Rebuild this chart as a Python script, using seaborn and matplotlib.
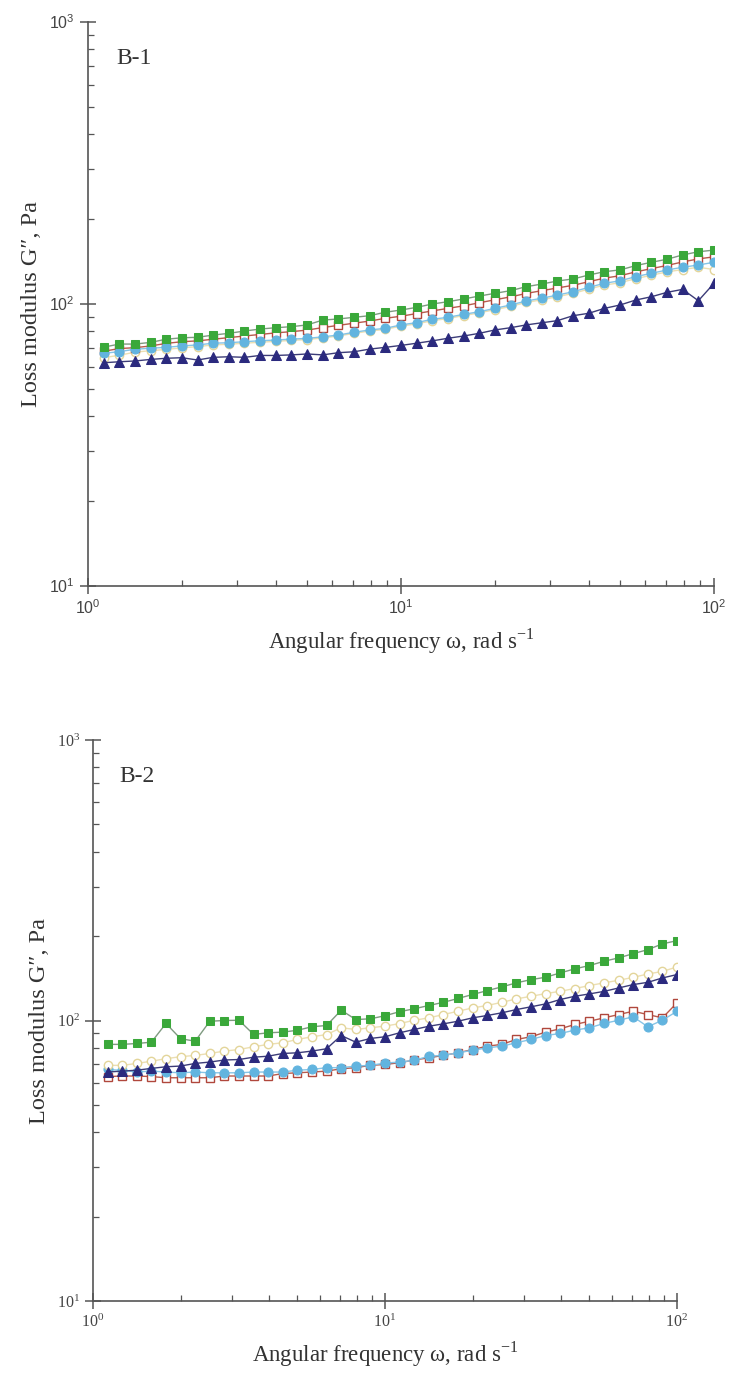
import numpy as np
import pandas as pd
import matplotlib
matplotlib.use("Agg")
import matplotlib.pyplot as plt
from matplotlib.ticker import LogLocator, NullFormatter, FuncFormatter
import seaborn as sns

# ---------------- data ----------------
freq = [1.122, 1.259, 1.413, 1.585, 1.778, 1.995, 2.239, 2.512, 2.818, 3.162,
        3.548, 3.981, 4.467, 5.012, 5.623, 6.310, 7.079, 7.943, 8.913, 10.0,
        11.22, 12.59, 14.13, 15.85, 17.78, 19.95, 22.39, 25.12, 28.18, 31.62,
        35.48, 39.81, 44.67, 50.12, 56.23, 63.10, 70.79, 79.43, 89.13, 100.0]

b1_green = [70.3, 72.1, 72.1, 73.1, 75.0, 75.9, 76.2, 77.6, 78.7, 80.2,
            81.5, 82.4, 83.1, 84.3, 87.7, 88.5, 89.7, 90.9, 93.5, 95.2,
            97.3, 100.0, 101.9, 104.2, 106.7, 109.1, 111.5, 115.2, 117.7, 120.7,
            122.7, 126.7, 130.2, 132.1, 136.8, 140.6, 144.1, 149.3, 153.2, 155.3]
b1_red = [68.0, 69.5, 70.0, 71.0, 72.5, 73.5, 74.0, 75.0, 76.0, 77.0,
          78.0, 79.0, 79.8, 80.8, 82.5, 84.0, 85.5, 87.0, 89.0, 90.5,
          92.5, 94.5, 96.5, 98.5, 101.0, 103.5, 106.0, 109.0, 111.5, 114.0,
          116.5, 120.0, 123.5, 126.0, 130.0, 133.5, 137.0, 141.0, 144.5, 147.0]
b1_yellow = [64.5, 65.8, 67.5, 68.3, 69.0, 69.9, 70.6, 71.6, 72.0, 72.6,
             73.2, 73.7, 74.3, 74.8, 75.8, 77.0, 78.7, 80.2, 81.3, 83.5,
             85.0, 87.3, 88.8, 91.0, 93.0, 95.5, 98.0, 101.3, 103.5, 106.2,
             109.0, 113.0, 116.7, 119.0, 123.0, 126.5, 130.0, 132.5, 135.0, 132.5]
b1_cyan = [66.8, 67.8, 69.1, 69.7, 70.2, 71.0, 71.6, 72.6, 72.9, 73.5,
           74.1, 74.5, 75.1, 75.5, 76.5, 77.6, 79.4, 80.9, 82.0, 84.3,
           85.9, 88.3, 89.7, 91.9, 93.9, 96.5, 99.2, 102.5, 104.8, 107.6,
           110.5, 114.6, 118.4, 120.9, 125.0, 128.5, 132.0, 135.0, 137.5, 140.6]
b1_navy = [61.9, 62.4, 62.8, 63.6, 64.2, 64.5, 63.3, 64.7, 65.0, 64.7,
           65.7, 65.7, 66.0, 66.5, 66.0, 67.2, 67.7, 69.2, 70.2, 71.3,
           72.6, 74.0, 75.6, 77.0, 78.7, 80.9, 82.4, 84.3, 85.8, 87.3,
           90.9, 92.7, 96.5, 99.2, 103.3, 106.1, 110.0, 112.7, 102.7, 118.4]

b2_green = [82.2, 82.2, 82.8, 83.7, 97.6, 86.1, 84.4, 99.4, 100.0, 100.2,
            89.2, 90.4, 90.9, 92.3, 95.0, 96.0, 108.8, 100.8, 101.4, 104.0,
            107.5, 110.1, 113.1, 116.1, 119.8, 123.8, 127.8, 131.8, 136.2, 139.9,
            142.6, 147.8, 152.8, 157.0, 162.6, 167.2, 173.1, 178.9, 187.6, 192.6]
b2_yellow = [69.2, 69.2, 70.3, 71.6, 73.1, 74.3, 75.1, 76.3, 77.8, 78.8,
             80.6, 82.2, 83.3, 85.6, 87.5, 89.1, 94.2, 92.9, 94.2, 95.5,
             97.5, 100.2, 102.2, 105.0, 107.9, 110.9, 113.1, 116.1, 119.4, 122.0,
             124.7, 127.1, 130.0, 133.2, 136.2, 139.1, 142.5, 146.5, 149.6, 155.2]
b2_navy = [65.5, 66.0, 66.5, 67.5, 68.4, 68.8, 70.3, 71.1, 72.3, 72.6,
           74.0, 74.6, 76.3, 76.7, 77.8, 79.3, 88.4, 83.7, 86.3, 87.5,
           90.4, 92.9, 95.4, 97.3, 99.4, 102.2, 104.2, 106.5, 109.4, 111.9,
           114.6, 118.8, 122.0, 124.4, 127.0, 130.6, 134.3, 136.8, 141.8, 145.8]
b2_cyan = [66.9, 66.4, 65.5, 66.0, 65.5, 65.1, 65.5, 65.1, 65.1, 65.1,
           65.5, 65.5, 65.5, 66.5, 66.9, 67.9, 67.9, 68.8, 69.2, 70.5,
           71.1, 72.1, 74.6, 75.1, 76.7, 78.3, 79.9, 81.0, 83.3, 85.6,
           88.4, 89.9, 92.4, 94.2, 97.6, 100.2, 103.1, 95.0, 100.2, 107.9]
b2_red = [63.1, 63.4, 63.4, 63.1, 62.5, 62.5, 62.5, 62.5, 63.4, 63.4,
          63.4, 63.4, 64.7, 65.1, 65.5, 66.0, 67.3, 67.9, 69.2, 69.7,
          70.7, 72.3, 73.6, 75.1, 76.7, 78.8, 81.0, 82.2, 85.6, 87.5,
          90.9, 93.4, 96.8, 99.4, 102.2, 105.0, 107.9, 105.0, 102.2, 115.6]

panel_labels = ["B-1", "B-2"]
xlabel = "Angular frequency \u03c9, rad s$^{-1}$"
ylabel = "Loss modulus G\u2033, Pa"

# ---------------- styles ----------------
sns.set_style("ticks")
plt.rcParams["font.family"] = ["Liberation Serif", "DejaVu Serif"]
plt.rcParams["mathtext.fontset"] = "custom"
plt.rcParams["mathtext.rm"] = "Liberation Serif"
plt.rcParams["mathtext.sf"] = "Liberation Sans"

AX_COLOR = "#555555"

styles = {
    "yellow": dict(marker="o", markersize=6, markerfacecolor="white",
                   markeredgecolor="#e3d59a", color="#ecdfb2", linewidth=1.0, markeredgewidth=1.0),
    "red": dict(marker="s", markersize=6, markerfacecolor="white",
                markeredgecolor="#b0473c", color="#b85a4c", linewidth=1.0, markeredgewidth=1.0),
    "cyan": dict(marker="o", markersize=6.5, markerfacecolor="#62b4df",
                 markeredgecolor="#62b4df", color="#86c4e6", linewidth=1.0),
    "green": dict(marker="s", markersize=6, markerfacecolor="#3aa83a",
                  markeredgecolor="#3aa83a", color="#7f9a80", linewidth=1.0),
    "navy": dict(marker="^", markersize=6.5, markerfacecolor="#2b2a7e",
                 markeredgecolor="#2b2a7e", color="#3c3c78", linewidth=1.0),
}

def sans_fmt(v, pos):
    return r"$\mathsf{10^{%d}}$" % int(round(np.log10(v)))

def serif_fmt(v, pos):
    return r"$\mathrm{10^{%d}}$" % int(round(np.log10(v)))

fig = plt.figure(figsize=(7.30, 13.83), dpi=100)
ax1 = fig.add_axes([88 / 730, 1 - 586 / 1383, (714 - 88) / 730, (586 - 22) / 1383])
ax2 = fig.add_axes([93 / 730, 1 - 1301 / 1383, (677 - 93) / 730, (1301 - 740) / 1383])

panels = [
    (ax1, [("yellow", b1_yellow), ("red", b1_red), ("cyan", b1_cyan),
           ("green", b1_green), ("navy", b1_navy)], sans_fmt),
    (ax2, [("red", b2_red), ("cyan", b2_cyan), ("yellow", b2_yellow),
           ("navy", b2_navy), ("green", b2_green)], serif_fmt),
]

for (ax, series, fmt), lab in zip(panels, panel_labels):
    for name, vals in series:
        df = pd.DataFrame({"freq": freq, "G2": vals})
        sns.lineplot(data=df, x="freq", y="G2", ax=ax, sort=False,
                     estimator=None, legend=False, **styles[name])
    ax.set_xscale("log")
    ax.set_yscale("log")
    ax.set_xlim(1, 100)
    ax.set_ylim(10, 1000)
    ax.xaxis.set_major_locator(LogLocator(base=10, numticks=10))
    ax.yaxis.set_major_locator(LogLocator(base=10, numticks=10))
    ax.xaxis.set_minor_locator(LogLocator(base=10, subs=np.arange(2, 10), numticks=20))
    ax.yaxis.set_minor_locator(LogLocator(base=10, subs=np.arange(2, 10), numticks=20))
    ax.xaxis.set_major_formatter(FuncFormatter(fmt))
    ax.yaxis.set_major_formatter(FuncFormatter(fmt))
    ax.xaxis.set_minor_formatter(NullFormatter())
    ax.yaxis.set_minor_formatter(NullFormatter())
    for s in ["top", "right"]:
        ax.spines[s].set_visible(False)
    for s in ["left", "bottom"]:
        ax.spines[s].set_color(AX_COLOR)
        ax.spines[s].set_linewidth(1.2)
    ax.tick_params(which="major", direction="inout", length=11, width=1.1,
                   color=AX_COLOR, labelcolor="#444444", labelsize=11.5, pad=4)
    ax.tick_params(which="minor", direction="in", length=4, width=0.9, color=AX_COLOR)
    ax.set_xlabel(xlabel, fontsize=16.5, color="#333333", labelpad=6)
    ax.set_ylabel(ylabel, fontsize=17.5, color="#333333", labelpad=5)
    ax.text(0.045, 0.935, lab, transform=ax.transAxes, fontsize=17,
            color="#333333", ha="left", va="center")

fig.savefig("out.png", dpi=100)
